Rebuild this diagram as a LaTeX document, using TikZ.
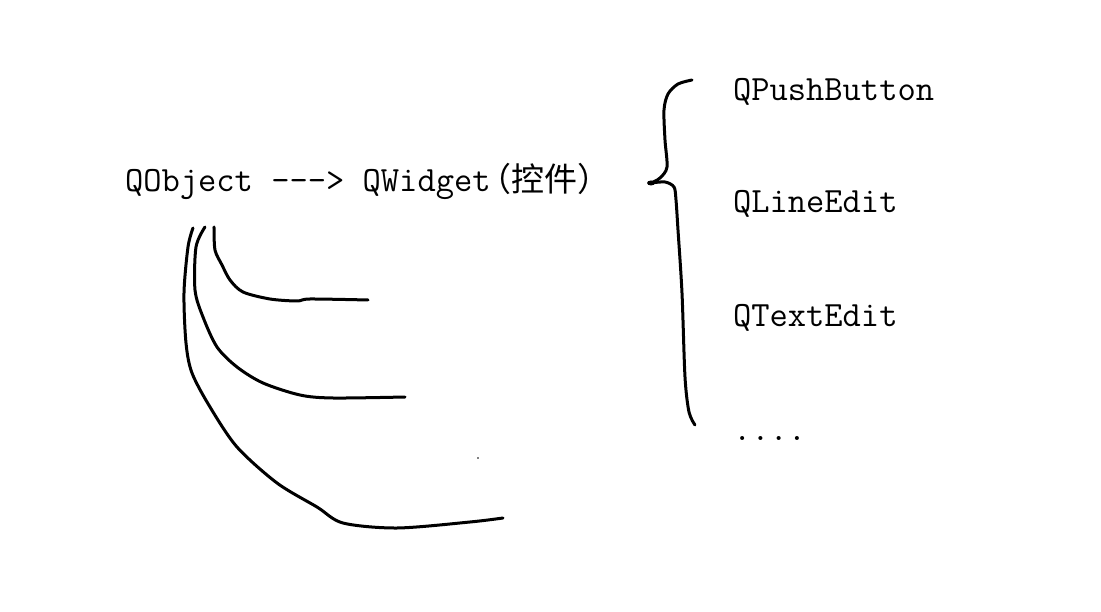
\documentclass[tikz,border=0pt]{standalone}
\usepackage{fontspec}
\newfontfamily\cjk{Noto Sans CJK SC}
\begin{document}
\begin{tikzpicture}[x=1pt,y=-1pt,
  stroke/.style={line width=3pt, line cap=round, line join=round},
  label/.style={anchor=base west, inner sep=0pt, outer sep=0pt, font=\fontsize{35.5}{40}\selectfont\ttfamily}]
\useasboundingbox[fill=white] (0,0) rectangle (1101,612);
% texts
\node[label] (root) at (125,192) {QObject -{}-{}-> QWidget\hspace{-12pt}{\cjk\fontsize{33}{40}\selectfont （控件）}};
\node[label] (pb) at (733,101) {QPushButton};
\node[label] (le) at (733,213) {QLineEdit};
\node[label] (te) at (733,327) {QTextEdit};
\node[label] (more) at (733,440) {....};
% brace
\draw[stroke] plot[smooth, tension=0.5] coordinates {(692,80) (678,84) (668,94) (664,110) (665,140) (667,167) (660,178) (651,183)};
\draw[stroke] plot[smooth, tension=0.5] coordinates {(651,183) (665,182) (674,187) (676,200) (678,230) (682,293) (685,377) (689,412) (695,425)};
\fill (651,183) ellipse (4pt and 2.5pt);
% hand-drawn arcs
\draw[stroke] plot[smooth, tension=0.5] coordinates {(214,227) (215,250) (222,265) (230,280) (243,292) (270,299) (297,301) (310,299) (368,300)};
\draw[stroke] plot[smooth, tension=0.5] coordinates {(205,227) (196,247) (195,290) (203,317) (217,347) (237,367) (263,383) (300,395) (333,398) (405,397)};
\draw[stroke] plot[smooth, tension=0.5] coordinates {(193,228) (188,247) (184,293) (186,343) (192,373) (210,407) (237,447) (277,483) (317,507) (343,523) (397,528) (470,522) (503,518)};
% stray dot
\fill (478,458) circle (0.9pt);
\end{tikzpicture}
\end{document}
